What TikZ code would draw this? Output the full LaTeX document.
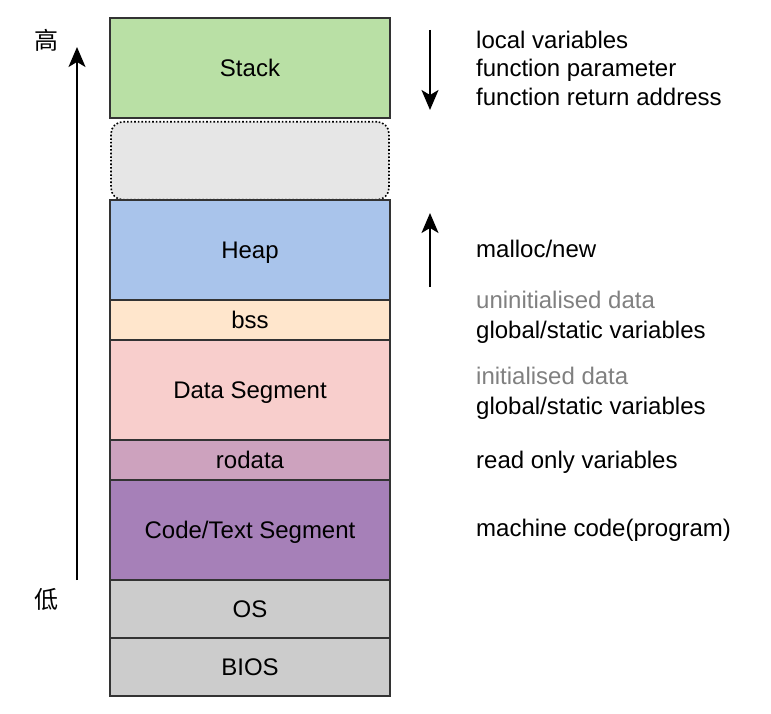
\documentclass[tikz,border=0pt]{standalone}
\usepackage{fontspec}
\setmainfont{Liberation Sans}
\newfontfamily\cjk{Noto Sans CJK SC}
\usetikzlibrary{arrows.meta}

\definecolor{stackgreen}{HTML}{B9E0A5}
\definecolor{freegray}{HTML}{E6E6E6}
\definecolor{heapblue}{HTML}{A9C4EB}
\definecolor{bssorange}{HTML}{FFE6CC}
\definecolor{datapink}{HTML}{F8CECC}
\definecolor{rodatapurple}{HTML}{CDA2BE}
\definecolor{codepurple}{HTML}{A680B8}
\definecolor{osgray}{HTML}{CCCCCC}
\definecolor{hintgray}{HTML}{808080}

\begin{document}
\begin{tikzpicture}[x=1pt,y=-1pt,
  seg/.style={draw=black!80, line width=1.8pt, minimum width=280pt, inner sep=0pt,
    outer sep=0pt, anchor=north, text height=17pt, text depth=0pt,
    font=\fontsize{24}{28}\selectfont},
  freebox/.style={draw=black, dotted, line width=1.6pt, rounded corners=12pt, fill=freegray,
    minimum width=278pt, minimum height=78pt, inner sep=0pt, anchor=north},
  note/.style={anchor=west, inner sep=0pt, text height=17pt, text depth=0pt,
    font=\fontsize{24}{28}\selectfont},
  hint/.style={note, text=hintgray},
  level/.style={inner sep=0pt, font=\cjk\fontsize{24}{28}\selectfont},
  growarrow/.style={line width=1.8pt, -{Stealth[length=20pt,width=17pt,inset=5pt]}}]
\useasboundingbox (0,0) rectangle (771,714);

% memory segments, top to bottom
\node[seg, fill=stackgreen, minimum height=100pt] (stack) at (250,18) {Stack};
\node[freebox] (free) at (250,121) {};
\node[seg, fill=heapblue, minimum height=100pt] (heap) at (250,200) {Heap};
\node[seg, fill=bssorange, minimum height=40pt] (bss) at (250,300) {bss};
\node[seg, fill=datapink, minimum height=100pt] (data) at (250,340) {Data Segment};
\node[seg, fill=rodatapurple, minimum height=40pt] (rodata) at (250,440) {rodata};
\node[seg, fill=codepurple, minimum height=100pt] (code) at (250,480) {Code/Text Segment};
\node[seg, fill=osgray, minimum height=58pt] (os) at (250,580) {OS};
\node[seg, fill=osgray, minimum height=58pt] (bios) at (250,638) {BIOS};

% address direction
\node[level] (high) at (46,40) {高};
\node[level] (low) at (46,599) {低};
\coordinate (addrlo) at (77,580);
\coordinate (addrhi) at (77,47);
\draw[growarrow] (addrlo) -- (addrhi);

% growth of stack and heap
\coordinate (stacktop) at (430,30);
\coordinate (stackend) at (430,110);
\draw[growarrow] (stacktop) -- (stackend);
\coordinate (heapbot) at (430,287);
\coordinate (heapend) at (430,213);
\draw[growarrow] (heapbot) -- (heapend);

% descriptions
\node[note] (local) at (476,40) {local variables};
\node[note] (param) at (476,68) {function parameter};
\node[note] (ret) at (476,97) {function return address};
\node[note] (malloc) at (476,249) {malloc/new};
\node[hint] (uninit) at (476,300) {uninitialised data};
\node[note] (bssvar) at (476,330) {global/static variables};
\node[hint] (init) at (476,376) {initialised data};
\node[note] (datavar) at (476,406) {global/static variables};
\node[note] (readonly) at (476,460) {read only variables};
\node[note] (machine) at (476,528) {machine code(program)};
\end{tikzpicture}
\end{document}
